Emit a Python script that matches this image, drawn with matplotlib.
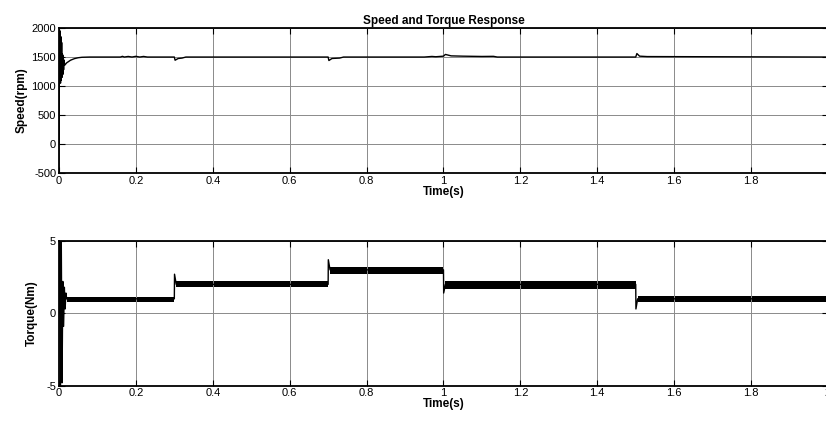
import numpy as np
import matplotlib.pyplot as plt

plt.rcParams['font.family'] = ['Liberation Sans', 'DejaVu Sans']
plt.rcParams['axes.unicode_minus'] = False

# speed response (time s, rpm)
speed_t = [0, 0.001, 0.002, 0.003, 0.004, 0.005, 0.006, 0.007, 0.008, 0.009,
           0.010, 0.011, 0.012, 0.013, 0.015, 0.02, 0.03, 0.04, 0.05, 0.06, 0.08,
           0.16, 0.165, 0.17, 0.18, 0.19, 0.2, 0.21, 0.22, 0.23,
           0.3, 0.302, 0.31, 0.32, 0.33,
           0.7, 0.702, 0.71, 0.73, 0.74,
           0.95, 0.97, 0.98, 1.0, 1.005, 1.02, 1.05, 1.08, 1.1, 1.13, 1.14,
           1.5, 1.503, 1.51, 1.53, 2.0]
speed_v = [0, 1900, 1100, 1950, 1050, 1850, 1100, 1750, 1150, 1550,
           1200, 1520, 1280, 1450, 1360, 1400, 1445, 1472, 1488, 1496, 1500,
           1500, 1512, 1500, 1510, 1500, 1512, 1500, 1510, 1500,
           1500, 1445, 1475, 1482, 1500,
           1500, 1440, 1475, 1482, 1500,
           1500, 1510, 1505, 1515, 1545, 1520, 1515, 1512, 1510, 1512, 1500,
           1500, 1560, 1515, 1508, 1500]

# torque centre line with transients (time s, Nm)
torque_t = [0, 0.002, 0.004, 0.006, 0.008, 0.010, 0.012, 0.014, 0.016, 0.018, 0.02,
            0.3, 0.3005, 0.305, 0.7, 0.7005, 0.705, 1.0, 1.0005, 1.005,
            1.5, 1.5005, 1.505, 2.0]
torque_v = [0, 5, -5, 5, -4.8, 2.2, -0.9, 1.8, 0.3, 1.4, 1.0,
            1.0, 2.7, 2.0, 2.0, 3.7, 3.0, 3.0, 1.4, 2.0,
            2.0, 0.3, 1.0, 1.0]

# torque ripple band per load step
seg_start = [0.02, 0.305, 0.705, 1.005, 1.505]
seg_end = [0.3, 0.7, 1.0, 1.5, 2.0]
seg_lo = [0.78, 1.8, 2.7, 1.7, 0.78]
seg_hi = [1.15, 2.25, 3.2, 2.25, 1.2]

xticks = [0, 0.2, 0.4, 0.6, 0.8, 1.0, 1.2, 1.4, 1.6, 1.8, 2.0]
top_labels = ['0', '0.2', '0.4', '0.6', '0.8', '1', '1.2', '1.4', '1.6', '1.8', '']
bot_labels = ['0', '0.2', '0.4', '0.6', '0.8', '1', '1.2', '1.4', '1.6', '1.8', '2']

fig = plt.figure(figsize=(8.26, 4.21), dpi=100)
ax1 = fig.add_axes([0.0714, 0.589, 0.931, 0.3444])
ax2 = fig.add_axes([0.0714, 0.0838, 0.931, 0.344])

ax1.plot(speed_t, speed_v, color='black', lw=1.0)
ax1.set_ylim(-500, 2000)
ax1.set_yticks([-500, 0, 500, 1000, 1500, 2000])
ax1.set_ylabel('Speed(rpm)', fontsize=8.5, fontweight='bold', labelpad=3)
ax1.set_title('Speed and Torque Response', fontsize=8.5, fontweight='bold', pad=3)
ax1.set_xticks(xticks)
ax1.set_xticklabels(top_labels)

ax2.plot(torque_t, torque_v, color='black', lw=1.0)
for s, e, lo, hi in zip(seg_start, seg_end, seg_lo, seg_hi):
    ax2.fill_between([s, e], [lo, lo], [hi, hi], color='black', lw=0)
ax2.set_ylim(-5, 5)
ax2.set_yticks([-5, 0, 5])
ax2.set_ylabel('Torque(Nm)', fontsize=8.5, fontweight='bold', labelpad=6)
ax2.set_xticks(xticks)
ax2.set_xticklabels(bot_labels)

for ax in (ax1, ax2):
    ax.set_xlim(0, 2)
    ax.set_xlabel('Time(s)', fontsize=8.5, fontweight='bold', labelpad=0)
    ax.grid(True, color='#8a8a8a', lw=0.7)
    ax.tick_params(direction='in', top=True, right=True, labelsize=8, length=4, pad=2)
    for sp in ax.spines.values():
        sp.set_linewidth(1.3)

fig.savefig('out.png', dpi=100)
